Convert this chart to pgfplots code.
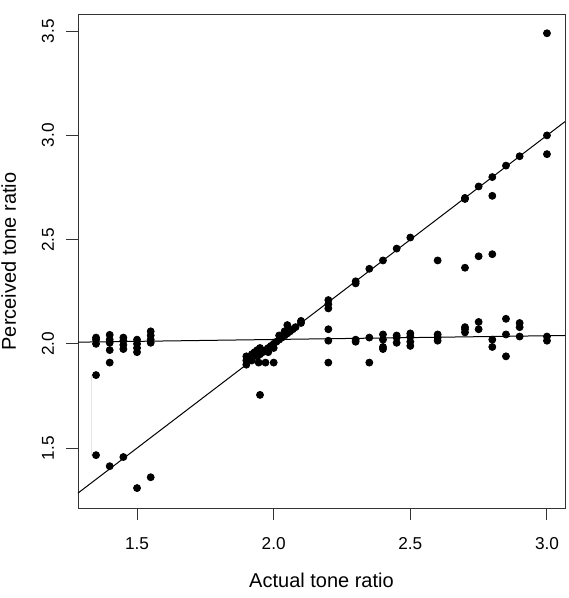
\documentclass[border=0pt]{standalone}
\usepackage{fontspec}
\setmainfont{Liberation Sans}
\usepackage{pgfplots}
\pgfplotsset{compat=1.18}
\begin{document}
\begin{tikzpicture}
\begin{axis}[
  scale only axis,
  width=243.5pt, height=246.5pt,
  xmin=1.284, xmax=3.066, ymin=1.2124, ymax=3.5776,
  xtick={1.5,2.0,2.5,3.0}, ytick={1.5,2.0,2.5,3.0,3.5},
  xticklabels={1.5,2.0,2.5,3.0}, yticklabels={1.5,2.0,2.5,3.0,3.5},
  tick align=outside, major tick length=6pt,
  xtick pos=bottom, ytick pos=left,
  axis line style={black!80, line width=0.5pt},
  every tick/.style={black!80, line width=0.5pt},
  tick label style={font=\fontsize{8.6}{10}\selectfont},
  xticklabel style={anchor=center, yshift=-12pt},
  yticklabel style={rotate=90, anchor=center, yshift=9pt},
  xlabel={Actual tone ratio}, ylabel={Perceived tone ratio},
  label style={font=\fontsize{10}{12}\selectfont},
  every axis x label/.style={at={(axis description cs:0.5,-0.146)}, anchor=center},
  every axis y label/.style={at={(axis description cs:-0.1425,0.5)}, rotate=90, anchor=center},
  clip=false,
]
\coordinate (sw) at (rel axis cs:0,0);
\coordinate (ne) at (rel axis cs:1,1);
\addplot[black!10, line width=0.5pt] coordinates {(1.335,1.85)(1.335,1.46)};
\addplot[black, line width=0.5pt] coordinates {(1.284,1.284)(3.066,3.066)};
\addplot[black, line width=0.5pt] coordinates {(1.284,2.008)(3.066,2.040)};
\addplot[only marks, mark=*, mark size=1.75pt, black] coordinates {
(1.35,2.00)(1.35,2.02)(1.35,2.03)(1.35,1.85)(1.35,1.466)
(1.40,2.043)(1.40,2.02)(1.40,2.005)(1.40,1.97)(1.40,1.91)(1.40,1.413)
(1.45,2.03)(1.45,2.015)(1.45,1.995)(1.45,1.975)(1.45,1.457)
(1.50,2.02)(1.50,2.0)(1.50,1.98)(1.50,1.96)(1.50,1.308)
(1.55,2.06)(1.55,2.04)(1.55,2.02)(1.55,2.005)(1.55,1.36)
(1.90,1.90)(1.90,1.92)(1.90,1.94)(1.91,1.93)(1.92,1.92)(1.92,1.95)(1.93,1.96)
(1.94,1.94)(1.94,1.97)(1.95,1.95)(1.95,1.98)(1.96,1.96)(1.97,1.97)(1.98,1.98)
(1.98,1.96)(1.99,1.99)(2.00,2.00)(2.00,1.98)(2.01,2.01)(2.02,2.02)(2.02,2.04)
(2.03,2.03)(2.04,2.04)(2.04,2.06)(2.05,2.05)(2.06,2.06)(2.07,2.07)(2.08,2.08)
(2.05,2.09)(2.10,2.10)(2.10,2.11)
(1.945,1.91)(1.97,1.91)(2.00,1.91)(1.95,1.755)
(2.2,2.21)(2.2,2.19)(2.2,2.17)(2.2,2.07)(2.2,2.015)(2.2,1.91)
(2.3,2.30)(2.3,2.29)(2.3,2.02)(2.3,2.01)
(2.35,2.36)(2.35,2.03)(2.35,1.91)
(2.4,2.40)(2.4,2.045)(2.4,2.02)(2.4,1.985)(2.4,1.975)
(2.45,2.457)(2.45,2.04)(2.45,2.03)(2.45,2.005)
(2.5,2.51)(2.5,2.05)(2.5,2.035)(2.5,2.01)(2.5,1.99)
(2.6,2.40)(2.6,2.045)(2.6,2.03)(2.6,2.015)
(2.7,2.70)(2.7,2.695)(2.7,2.365)(2.7,2.08)(2.7,2.07)(2.7,2.055)
(2.75,2.755)(2.75,2.42)(2.75,2.105)(2.75,2.07)
(2.8,2.80)(2.8,2.71)(2.8,2.43)(2.8,2.02)(2.8,1.985)
(2.85,2.855)(2.85,2.12)(2.85,2.045)(2.85,1.94)
(2.9,2.90)(2.9,2.10)(2.9,2.08)(2.9,2.035)
(3.0,3.49)(3.0,3.00)(3.0,2.91)(3.0,2.035)(3.0,2.015)
};
\end{axis}
\pgfresetboundingbox
\useasboundingbox ([shift={(-39pt,-45pt)}]sw) rectangle ([shift={(2pt,7.5pt)}]ne);
\end{tikzpicture}
\end{document}
